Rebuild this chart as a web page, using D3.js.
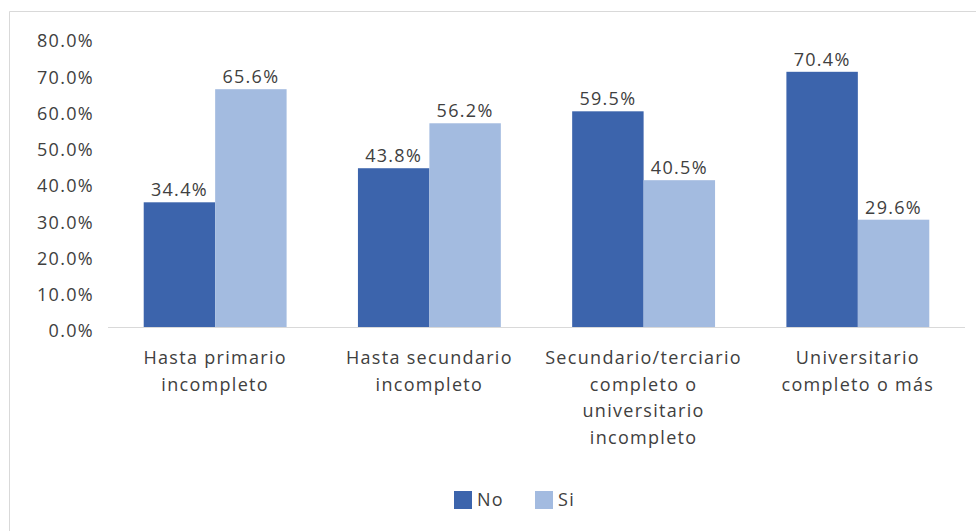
<!doctype html>
<html lang="en">
  <head>
    <meta charset="utf-8">
    <title>Nivel educativo</title>
    <style>
      body { margin: 0; background: #fff; }
      svg text { font-family: "Open Sans", sans-serif; fill: #404040; font-size: 18px; letter-spacing: 1.3px; }
    </style>
  </head>
  <body>
    <script src="https://cdn.jsdelivr.net/npm/d3@7"></script>
    <script>

    var categories = [
      ["Hasta primario", "incompleto"],
      ["Hasta secundario", "incompleto"],
      ["Secundario/terciario", "completo o", "universitario", "incompleto"],
      ["Universitario", "completo o más"]
    ];
    var seriesNames = ["No", "Si"];
    var noValues = [34.4, 43.8, 59.5, 70.4];
    var siValues = [65.6, 56.2, 40.5, 29.6];
    var yTicks = [0, 10, 20, 30, 40, 50, 60, 70, 80];
    var colors = ["#3c64ac", "#a3bbe0"];

    var W = 976, H = 531;
    var margin = {top: 37, right: 11, bottom: 204, left: 108};
    var width = W - margin.left - margin.right,
        height = H - margin.top - margin.bottom;

    var svg = d3.select("body").append("svg")
      .attr("width", W)
      .attr("height", H);

    // chart frame
    svg.append("path")
      .attr("d", "M9.5," + H + "V11.5H" + W)
      .attr("fill", "none")
      .attr("stroke", "#d9d9d9");

    var chart = svg.append("g")
      .attr("transform", "translate(" + margin.left + "," + margin.top + ")");

    var idx = categories.map(function(d, i){ return i; });

    var x = d3.scaleBand()
      .domain(idx)
      .range([0, width])
      .paddingInner(0.333)
      .paddingOuter(0.1667);

    var xs = d3.scaleBand()
      .domain([0, 1])
      .range([0, x.bandwidth()]);

    var y = d3.scaleLinear()
      .domain([0, 80])
      .range([height, 0]);

    var yAxis = chart.append("g")
      .call(d3.axisLeft(y).tickValues(yTicks).tickSize(0).tickPadding(14)
        .tickFormat(function(d){ return d.toFixed(1) + "%"; }));
    yAxis.select(".domain").remove();
    yAxis.selectAll("text")
      .attr("fill", "#404040")
      .attr("dy", "0.55em")
      .style("font-size", "18px")
      .style("font-family", "'Open Sans', sans-serif");

    var data = [];
    idx.forEach(function(i){
      data.push({cat: i, s: 0, v: noValues[i]});
      data.push({cat: i, s: 1, v: siValues[i]});
    });

    chart.selectAll(".bar")
      .data(data)
      .enter().append("rect")
      .attr("class", "bar")
      .attr("x", function(d){ return x(d.cat) + xs(d.s); })
      .attr("y", function(d){ return y(d.v); })
      .attr("width", xs.bandwidth())
      .attr("height", function(d){ return height - y(d.v); })
      .attr("fill", function(d){ return colors[d.s]; });

    chart.selectAll(".lbl")
      .data(data)
      .enter().append("text")
      .attr("class", "lbl")
      .attr("x", function(d){ return x(d.cat) + xs(d.s) + xs.bandwidth() / 2; })
      .attr("y", function(d){ return y(d.v) - 6; })
      .attr("text-anchor", "middle")
      .text(function(d){ return d.v.toFixed(1) + "%"; });

    // baseline
    chart.append("line")
      .attr("x1", 0).attr("x2", width)
      .attr("y1", height + 0.5).attr("y2", height + 0.5)
      .attr("stroke", "#d9d9d9");

    // category labels
    var xl = chart.append("g")
      .attr("transform", "translate(0," + height + ")");
    xl.selectAll("text")
      .data(categories)
      .enter().append("text")
      .attr("x", function(d, i){ return x(i) + x.bandwidth() / 2; })
      .attr("y", 37)
      .attr("text-anchor", "middle")
      .each(function(lines){
        var t = d3.select(this);
        lines.forEach(function(l, j){
          t.append("tspan")
            .attr("x", t.attr("x"))
            .attr("dy", j === 0 ? 0 : 26.7)
            .text(l);
        });
      });

    // legend
    var legend = svg.append("g")
      .attr("transform", "translate(454,491)");
    var items = legend.selectAll("g")
      .data(seriesNames)
      .enter().append("g")
      .attr("transform", function(d, i){ return "translate(" + (i * 81) + ",0)"; });
    items.append("rect")
      .attr("width", 18).attr("height", 18)
      .attr("fill", function(d, i){ return colors[i]; });
    items.append("text")
      .attr("x", 23).attr("y", 15)
      .text(function(d){ return d; });

    </script>
  </body>
</html>
